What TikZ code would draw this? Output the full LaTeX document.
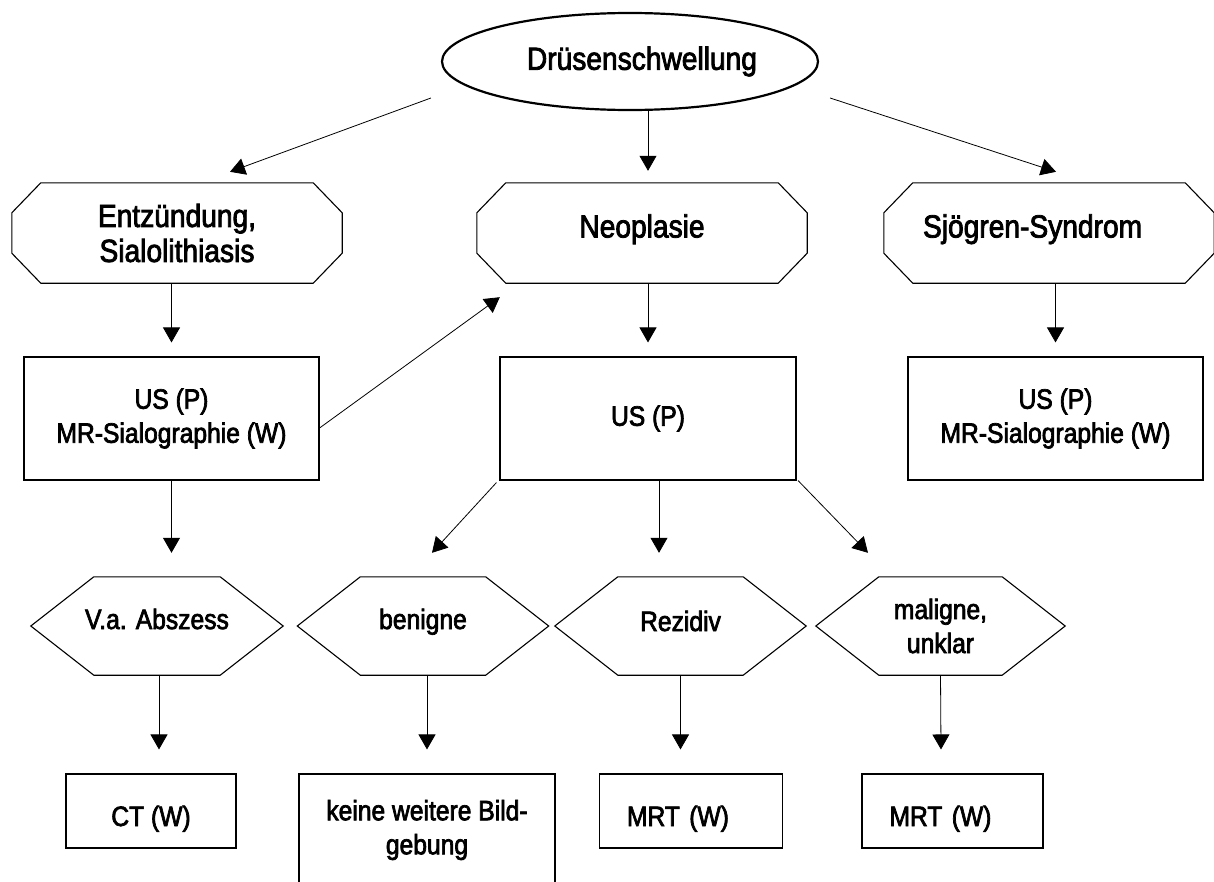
\documentclass[tikz,border=0pt]{standalone}
\usepackage{fontspec}
\setmainfont{Liberation Sans}[FakeStretch=0.88,FakeBold=2.5]
\usetikzlibrary{shapes.geometric}
\usetikzlibrary{arrows.meta}

\tikzset{
  bigtext/.style={font=\fontsize{32}{35}\selectfont},
  smalltext/.style={font=\fontsize{28}{34}\selectfont},
  octbox/.style={bigtext, align=center, minimum width=330pt, minimum height=100pt, inner sep=0pt},
  hexbox/.style={smalltext, align=center, minimum width=251pt, minimum height=98pt, inner sep=0pt},
  rectbox/.style={draw, line width=1.1pt, smalltext, align=center, inner sep=0pt},
  outline/.style={line width=1.1pt},
  arr/.style={line width=0.8pt, -{Triangle[length=15pt,width=17pt]}},
  upper/.style={text height=23pt, text depth=14pt},
  lower/.style={text height=30pt, text depth=0pt},
}

% octagon / hexagon drawn round an invisible node
\newcommand{\octout}[1]{%
  \draw[outline] ([xshift=29pt]#1.north west) -- ([xshift=-29pt]#1.north east)
    -- ([yshift=-30pt]#1.north east) -- ([yshift=30pt]#1.south east)
    -- ([xshift=-29pt]#1.south east) -- ([xshift=29pt]#1.south west)
    -- ([yshift=30pt]#1.south west) -- ([yshift=-30pt]#1.north west) -- cycle;}
\newcommand{\hexout}[1]{%
  \draw[outline] ([xshift=63pt]#1.north west) -- ([xshift=-63pt]#1.north east)
    -- (#1.east) -- ([xshift=-63pt]#1.south east) -- ([xshift=63pt]#1.south west)
    -- (#1.west) -- cycle;}

\begin{document}
\begin{tikzpicture}[x=1pt, y=-1pt]
  \useasboundingbox[fill=white] (0,0) rectangle (1214,881);

  \node[ellipse, draw, line width=2.2pt, bigtext, minimum width=376pt, minimum height=97pt, inner sep=0pt, text width=254pt, align=right] (E) at (630,61.5) {Drüsenschwellung};

  % first row
  \node[octbox] (ent) at (177,233) {Entzündung,\\Sialolithiasis};
  \node[octbox, upper] (neo) at (642,233) {Neoplasie};
  \node[octbox, upper, text width=252pt, align=left] (sjo) at (1049,233) {Sjögren-Syndrom};
  \octout{ent}
  \octout{neo}
  \octout{sjo}

  \draw[arr] ([xshift=-10pt,yshift=-36.5pt]E.west) -- ([xshift=53pt,yshift=11pt]ent.north);
  \draw[arr] ([xshift=18pt]E.south) -- ([xshift=6pt,yshift=12pt]neo.north);
  \draw[arr] ([xshift=11pt,yshift=-36.5pt]E.east) -- ([xshift=7pt,yshift=11pt]sjo.north);

  % second row
  \node[rectbox, minimum width=295pt, minimum height=123pt] (usl) at (171.5,418.5) {US (P)\\MR-Sialographie (W)};
  \node[rectbox, minimum width=296pt, minimum height=123pt] (usm) at (648,418.5) {US (P)};
  \node[rectbox, minimum width=295pt, minimum height=123pt] (usr) at (1055.5,418.5) {US (P)\\MR-Sialographie (W)};

  \draw[arr] ([xshift=-5.5pt]ent.south) -- ([yshift=14pt]usl.north);
  \draw[arr] ([xshift=6pt]neo.south) -- ([yshift=14pt]usm.north);
  \draw[arr] ([xshift=6.5pt]sjo.south) -- ([yshift=14pt]usr.north);
  \draw[arr] ([yshift=-9.5pt]usl.east) -- ([xshift=23pt,yshift=-14pt]neo.south west);

  % third row
  \node[hexbox, upper, text height=20pt, minimum width=252pt] (abs) at (157,626) {V.a. Abszess};
  \node[hexbox, upper, text height=20pt] (ben) at (423,626) {benigne};
  \node[hexbox, upper, text height=20pt, text depth=10pt] (rez) at (680.5,626) {Rezidiv};
  \node[hexbox, minimum width=249pt] (mal) at (940.5,626) {maligne,\\unklar};
  \hexout{abs}
  \hexout{ben}
  \hexout{rez}
  \hexout{mal}

  \draw[arr] (usl.south) -- ([xshift=14.5pt,yshift=24pt]abs.north);
  \draw[arr] ([xshift=-3pt,yshift=-2pt]usm.south west) -- ([xshift=9pt,yshift=24pt]ben.north);
  \draw[arr] ([xshift=11pt]usm.south) -- ([xshift=-21.5pt,yshift=24pt]rez.north);
  \draw[arr] ([xshift=1.5pt]usm.south east) -- ([xshift=-72.5pt,yshift=24pt]mal.north);

  % last row
  \node[rectbox, lower, minimum width=170pt, minimum height=74pt] (ct) at (151,811) {CT (W)};
  \node[rectbox, minimum width=256pt, minimum height=112pt] (kei) at (427,830) {keine weitere Bild-\\gebung};
  \node[rectbox, lower, minimum width=183pt, minimum height=74pt, text width=128pt, align=left] (mrt1) at (691,811) {MRT (W)};
  \node[rectbox, lower, minimum width=181pt, minimum height=74pt, text width=126pt, align=left] (mrt2) at (952.5,811) {MRT (W)};

  \draw[arr] ([xshift=2pt]abs.south) -- ([xshift=8pt,yshift=24pt]ct.north);
  \draw[arr] ([xshift=4pt]ben.south) -- ([yshift=24pt]kei.north);
  \draw[arr] (rez.south) -- ([xshift=-10.5pt,yshift=24pt]mrt1.north);
  \draw[arr] (mal.south) -- ([xshift=-11.5pt,yshift=24pt]mrt2.north);
\end{tikzpicture}
\end{document}
